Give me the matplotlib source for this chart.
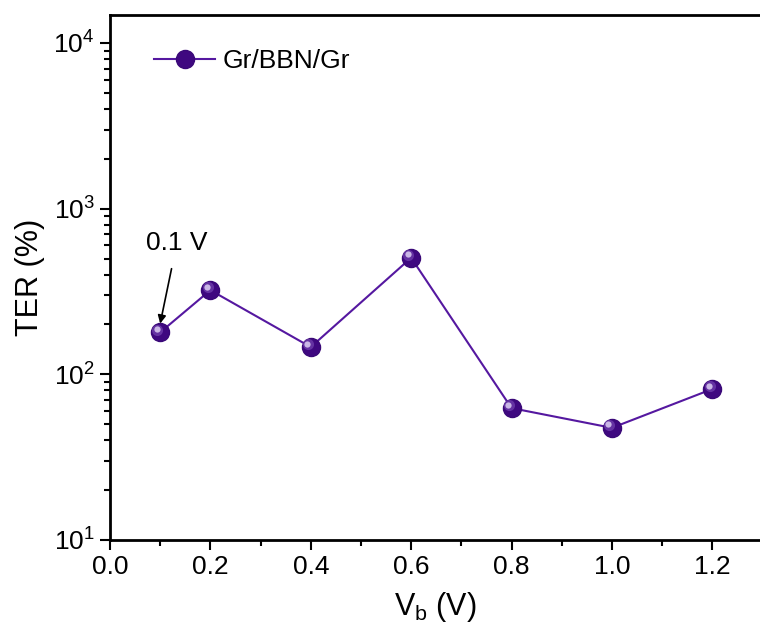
import matplotlib
matplotlib.use("Agg")
import matplotlib.pyplot as plt
from matplotlib.ticker import FixedLocator, LogLocator, NullFormatter, MultipleLocator
import matplotlib.transforms as mtransforms

plt.rcParams['font.family'] = ['Liberation Sans', 'DejaVu Sans']
plt.rcParams['mathtext.fontset'] = 'custom'
plt.rcParams['mathtext.rm'] = 'Liberation Sans'
plt.rcParams['mathtext.it'] = 'Liberation Sans:italic'

vb = [0.1, 0.2, 0.4, 0.6, 0.8, 1.0, 1.2]
ter = [179, 322, 146, 505, 62.5, 47.5, 81.5]
series_label = "Gr/BBN/Gr"
xticks = [0.0, 0.2, 0.4, 0.6, 0.8, 1.0, 1.2]
yticks = [1e1, 1e2, 1e3, 1e4]
ytick_labels = [r"$10^{1}$", r"$10^{2}$", r"$10^{3}$", r"$10^{4}$"]

fig = plt.figure(figsize=(7.6, 6.39), dpi=100)
ax = fig.add_axes([0.1447, 0.155, 0.8553, 0.8215])

line_color = "#5518a0"
main, = ax.plot(vb, ter, '-o', color=line_color, lw=1.5, markerfacecolor="#3f0880",
                markeredgecolor="#3a0878", markersize=13, zorder=3, label=series_label)
# highlight to mimic sphere
off2 = mtransforms.offset_copy(ax.transData, fig=fig, x=-2.0, y=2.0, units='points')
ax.plot(vb, ter, 'o', color="#8a5cc4", markersize=8, markeredgewidth=0, alpha=0.5,
        transform=off2, zorder=3.5)
off = mtransforms.offset_copy(ax.transData, fig=fig, x=-2.5, y=2.5, units='points')
ax.plot(vb, ter, 'o', color="#d6c6ee", markersize=4.5, markeredgewidth=0, alpha=0.9,
        transform=off, zorder=4)

ax.set_yscale('log')
ax.set_xlim(0.0, 1.295)
ax.set_ylim(10, 14750)
ax.xaxis.set_major_locator(FixedLocator(xticks))
ax.xaxis.set_minor_locator(MultipleLocator(0.1))
ax.set_xticklabels([f"{t:.1f}" for t in xticks])
ax.yaxis.set_major_locator(FixedLocator(yticks))
ax.set_yticklabels(ytick_labels)
ax.yaxis.set_minor_locator(LogLocator(base=10, subs=range(2, 10)))
ax.yaxis.set_minor_formatter(NullFormatter())

ax.tick_params(which='major', direction='out', length=7, width=1.5, labelsize=19, pad=4)
ax.tick_params(which='minor', direction='out', length=4, width=1.5)
for s in ['left', 'top', 'bottom']:
    ax.spines[s].set_linewidth(2)
ax.spines['right'].set_visible(False)

ax.set_xlabel(r"V$_\mathregular{b}$ (V)", fontsize=22, labelpad=8)
ax.set_ylabel("TER (%)", fontsize=22, labelpad=6)

ax.annotate("0.1 V", xy=(vb[0], ter[0] * 1.13), xytext=(0.072, 620),
            fontsize=19, ha='left', va='center',
            arrowprops=dict(arrowstyle='-|>', color='black', lw=1.2, mutation_scale=12,
                            shrinkA=8, shrinkB=0))

leg = ax.legend(handles=[main], loc='upper left', frameon=False, fontsize=19,
                handlelength=2.3, handletextpad=0.3, borderaxespad=0.3,
                bbox_to_anchor=(0.04, 0.97))

fig.savefig("out.png", dpi=100)
